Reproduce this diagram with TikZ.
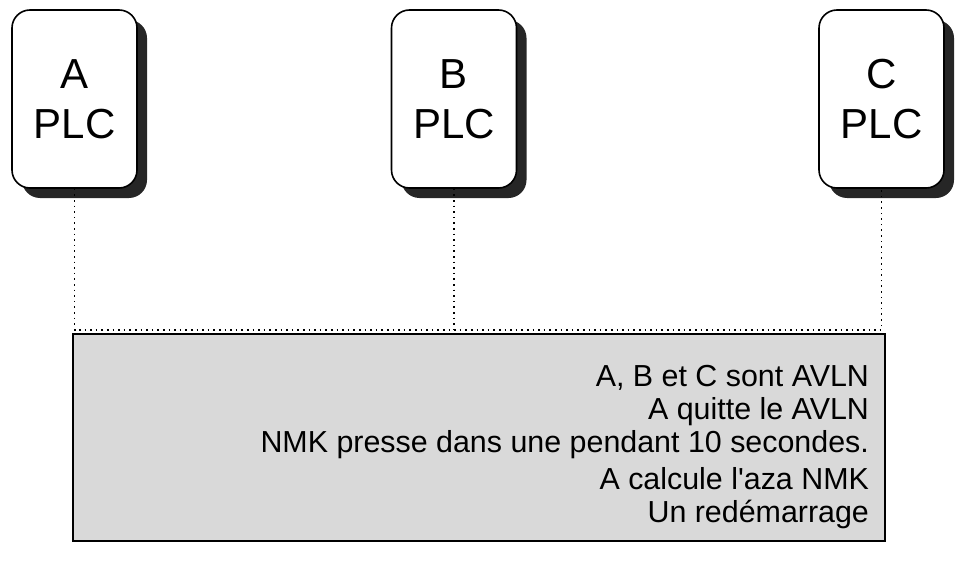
\documentclass[tikz,border=0pt]{standalone}
\usepackage{fontspec}
\setmainfont{Liberation Sans}
\usetikzlibrary{positioning}
\tikzset{
  plc/.style={draw,thick,fill=white,rounded corners=9pt,minimum width=62.5pt,minimum height=89pt,
    align=center,font=\fontsize{21}{25}\selectfont},
  shade/.style={fill=black!85,rounded corners=9pt,minimum width=62.5pt,minimum height=89pt},
  bus/.style={thick,dotted}
}
\begin{document}
\begin{tikzpicture}[x=0.5pt,y=-0.5pt]
\useasboundingbox (0,0) rectangle (968,567);
%shadows
\foreach \cx in {74.5,454,881.5}
  \node[shade] at (\cx+10,109) {};
%PLC units
\node[plc] (a) at (74.5,99) {A\\PLC};
\node[plc] (b) at (454,99) {B\\PLC};
\node[plc] (c) at (881.5,99) {C\\PLC};
%bus
\coordinate (ja) at (a.south |- 0,330);
\coordinate (jb) at (b.south |- 0,330);
\coordinate (jc) at (c.south |- 0,330);
\draw[bus] (a.south) -- (ja) -- (jb) -- (jc) -- (c.south);
\draw[bus] (b.south) -- (jb);
%status box
\node[draw,thick,fill=black!15,minimum width=406pt,minimum height=103.5pt,anchor=north west] (box) at (72,333) {};
\node[anchor=north east,align=right,font=\fontsize{15.2}{16.5}\selectfont] (txt) at (876,358)
  {A, B et C sont AVLN\\A quitte le AVLN\\NMK presse dans une pendant 10 secondes.\\[2pt]
   A calcule l\textquotesingle aza NMK\\Un redémarrage};
\end{tikzpicture}
\end{document}
